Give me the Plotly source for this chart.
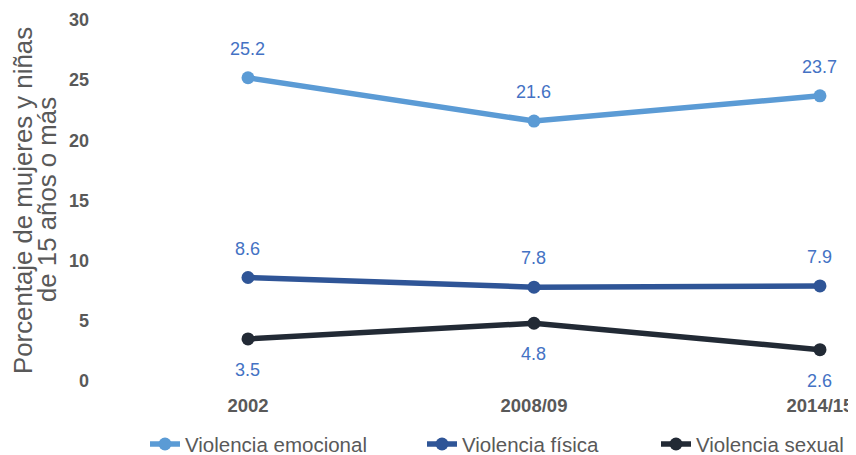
import plotly.graph_objects as go

periods = ["2002", "2008/09", "2014/15"]
emocional = [25.2, 21.6, 23.7]
fisica = [8.6, 7.8, 7.9]
sexual = [3.5, 4.8, 2.6]
y_ticks = [0, 5, 10, 15, 20, 25, 30]
y_title_lines = ["Porcentaje de mujeres y niñas", "de 15 años o más"]

FONT = "Liberation Sans, Arial"
GRAY = "#595959"
LABEL = "#4472C4"

series = [
    ("Violencia emocional", emocional, "#5B9BD5", 29, "legend"),
    ("Violencia física", fisica, "#2F5597", 29, "legend2"),
    ("Violencia sexual", sexual, "#222A35", -31, "legend3"),
]

fig = go.Figure()
for name, vals, color, shift, leg in series:
    fig.add_trace(go.Scatter(
        x=periods, y=vals, name=name, mode="lines+markers",
        line=dict(color=color, width=5.5),
        marker=dict(color=color, size=13),
        legend=leg,
    ))
    for i, yv in enumerate(vals):
        fig.add_annotation(
            x=i, y=yv, text=f"{yv:.1f}", showarrow=False, yshift=shift,
            font=dict(family=FONT, size=18, color=LABEL),
        )

# y-axis title as two rotated lines
for xp, line in zip([-0.1092, -0.0772], y_title_lines):
    fig.add_annotation(
        xref="paper", yref="paper", x=xp, y=0.5014, text=line, textangle=-90,
        showarrow=False, xanchor="center", yanchor="middle",
        font=dict(family=FONT, size=25.8, color=GRAY),
    )

# page body has an 8px margin: figure is drawn 8px right/down
leg_common = dict(orientation="h", yanchor="middle", y=-0.175, xanchor="left",
                  font=dict(family=FONT, size=20.5, color=GRAY), bgcolor="rgba(0,0,0,0)")
fig.update_layout(
    width=848, height=447,
    margin=dict(l=97, r=0, t=12, b=74, autoexpand=False),
    paper_bgcolor="white", plot_bgcolor="white",
    showlegend=True,
    legend=dict(x=(145 - 105) / 751, **leg_common),
    legend2=dict(x=(422 - 105) / 751, **leg_common),
    legend3=dict(x=(656 - 105) / 751, **leg_common),
    xaxis=dict(type="category", range=[-0.5, 2.126], showgrid=False, zeroline=False,
               showline=False, ticks="", ticklabelstandoff=11, automargin=False,
               tickfont=dict(family=FONT, size=18.5, color=GRAY, weight="bold")),
    yaxis=dict(range=[0, 30], tickvals=y_ticks, showgrid=False, zeroline=False,
               showline=False, ticks="", ticklabelstandoff=15, automargin=False,
               tickfont=dict(family=FONT, size=18, color=GRAY, weight="bold")),
)

fig.write_html("out.html")
